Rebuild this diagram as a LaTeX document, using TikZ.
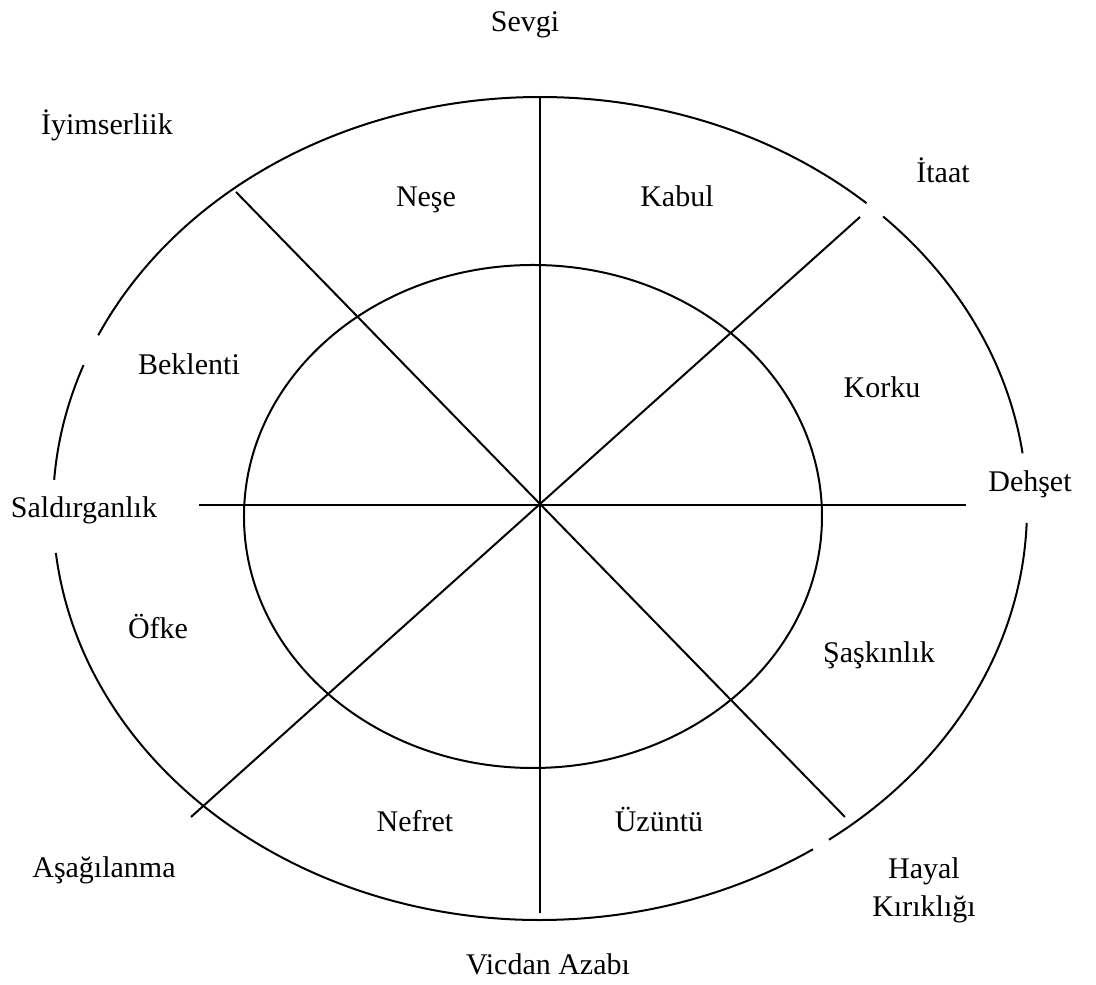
\documentclass[tikz,border=0pt]{standalone}
\usepackage{fontspec}
\setmainfont{Liberation Serif}
\begin{document}
\begin{tikzpicture}[x=.4pt,y=.4pt,
                    line/.style={line width=.8pt},
                    lbl/.style={anchor=base,inner sep=0pt},
                    every node/.style={font=\fontsize{12}{15.2}\selectfont}]
 \useasboundingbox (-540,-480) rectangle (556,505);
 \coordinate (n) at (0,408); \coordinate (s) at (0,-408);
 \coordinate (w) at (-341,0); \coordinate (e) at (426,0);
 \coordinate (nw) at (-304,313); \coordinate (se) at (305,-312);
 \coordinate (ne) at (320,288); \coordinate (sw) at (-349,-312);
 \draw[line] (n)--(s); \draw[line] (w)--(e);
 \draw[line] (nw)--(se); \draw[line] (ne)--(sw);
 \draw[line] (-7,-11.5) ellipse[x radius=289,y radius=251.5];
 \begin{scope}[shift={(0,-3.5)}]
  \foreach \a/\b in {7.7/45.2,47.9/155.1,159.6/176,186.2/304.1,306.4/358}
   \draw[line] (\a:487 and 411.5) arc[start angle=\a,end angle=\b,x radius=487,y radius=411.5];
 \end{scope}
 \node[lbl] (sevgi) at (-15,473) {Sevgi};
 \node[lbl] (iyim) at (-433,370) {İyimserliik};
 \node[lbl] (nese) at (-114,298) {Neşe};
 \node[lbl] (kabul) at (137,298) {Kabul};
 \node[lbl] (itaat) at (403,322) {İtaat};
 \node[lbl] (bek) at (-351,130) {Beklenti};
 \node[lbl] (korku) at (342,107) {Korku};
 \node[lbl] (dehset) at (490,13) {Dehşet};
 \node[lbl] (saldir) at (-456,-13) {Saldırganlık};
 \node[lbl] (ofke) at (-382,-134) {Öfke};
 \node[lbl] (sask) at (339,-158) {Şaşkınlık};
 \node[lbl] (nefret) at (-125,-327) {Nefret};
 \node[lbl] (uzuntu) at (119,-327) {Üzüntü};
 \node[lbl] (asag) at (-436,-373) {Aşağılanma};
 \node[align=center,inner sep=0pt] (hayal) at (384,-385) {Hayal\\Kırıklığı};
 \node[lbl] (vicdan) at (8,-470) {Vicdan Azabı};
\end{tikzpicture}
\end{document}
